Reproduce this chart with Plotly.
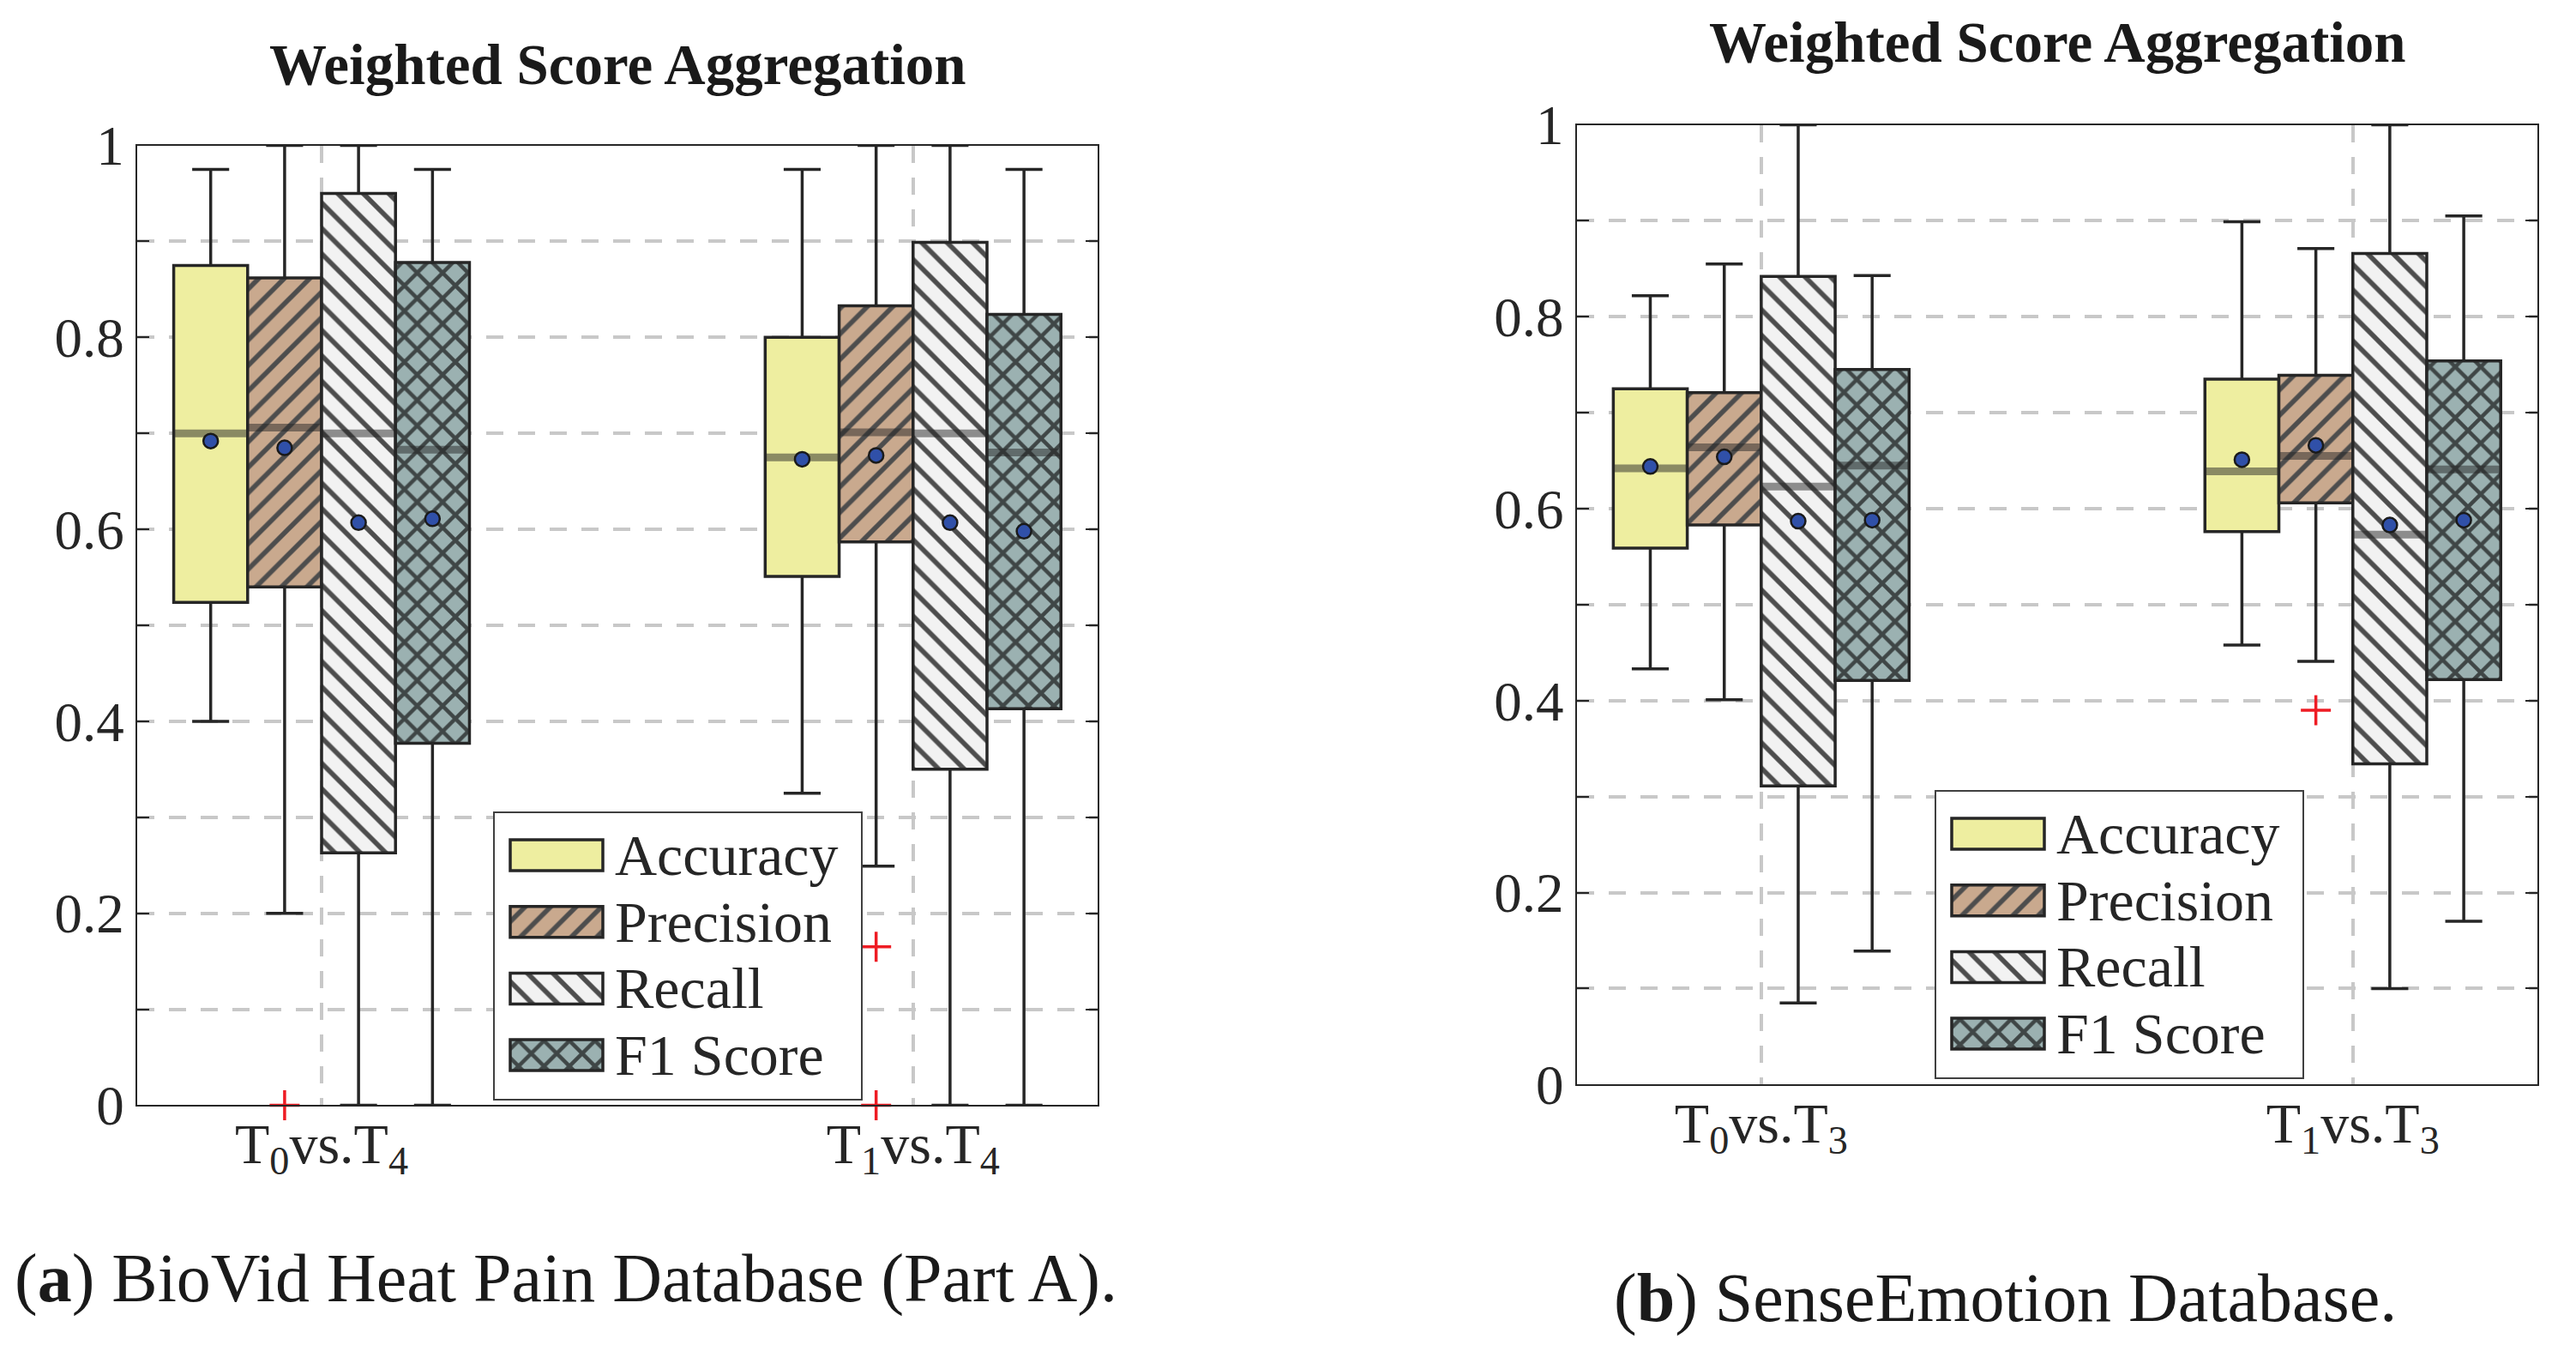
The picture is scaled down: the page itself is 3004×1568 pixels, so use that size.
import plotly.graph_objects as go

W, H = 3004, 1568
OFF = 8  # page body margin of the exported html
FONT = "Liberation Serif"
INK = "#262626"

metrics = ["Accuracy", "Precision", "Recall", "F1 Score"]

# ---------------- Panel (a): BioVid (rows = metrics, cols = groups) ----------------
a_groups = ["T<sub>0</sub>vs.T<sub>4</sub>", "T<sub>1</sub>vs.T<sub>4</sub>"]
a_q1 = [[0.524, 0.551], [0.540, 0.587], [0.263, 0.350], [0.377, 0.413]]
a_q3 = [[0.875, 0.800], [0.862, 0.833], [0.950, 0.899], [0.878, 0.824]]
a_med = [[0.700, 0.675], [0.706, 0.701], [0.700, 0.700], [0.683, 0.680]]
a_mean = [[0.692, 0.673], [0.685, 0.677], [0.607, 0.607], [0.611, 0.598]]
a_wlo = [[0.400, 0.325], [0.200, 0.249], [0.000, 0.000], [0.000, 0.000]]
a_whi = [[0.975, 0.975], [1.000, 1.000], [1.000, 1.000], [0.975, 0.975]]
a_out_metric = [1, 1, 1]
a_out_group = [0, 1, 1]
a_out_value = [0.000, 0.165, 0.000]

# ---------------- Panel (b): SenseEmotion ----------------
b_groups = ["T<sub>0</sub>vs.T<sub>3</sub>", "T<sub>1</sub>vs.T<sub>3</sub>"]
b_q1 = [[0.559, 0.576], [0.583, 0.606], [0.311, 0.334], [0.421, 0.422]]
b_q3 = [[0.725, 0.735], [0.721, 0.739], [0.842, 0.866], [0.745, 0.754]]
b_med = [[0.642, 0.639], [0.664, 0.655], [0.623, 0.573], [0.645, 0.641]]
b_mean = [[0.644, 0.651], [0.654, 0.666], [0.587, 0.583], [0.588, 0.588]]
b_wlo = [[0.433, 0.458], [0.401, 0.441], [0.085, 0.100], [0.139, 0.170]]
b_whi = [[0.822, 0.899], [0.855, 0.871], [1.000, 1.000], [0.843, 0.905]]
b_out_metric = [1]
b_out_group = [1]
b_out_value = [0.390]

y_ticks = [0, 0.2, 0.4, 0.6, 0.8, 1.0]
y_ticktext = ["0", "0.2", "0.4", "0.6", "0.8", "1"]

# ---------------- styles ----------------
fills = ["#eeeea0", "#c9a98e", "#f2f2f2", "#9bb1b1"]
patterns = [
    dict(shape=""),
    dict(shape="/", fgcolor="#4d4d4d", bgcolor="#c9a98e", size=21, solidity=0.27, fillmode="replace"),
    dict(shape="\\", fgcolor="#4d4d4d", bgcolor="#f2f2f2", size=21, solidity=0.27, fillmode="replace"),
    dict(shape="x", fgcolor="#3f4646", bgcolor="#9bb1b1", size=21, solidity=0.38, fillmode="replace"),
]
BOX_W = 0.125
CAP_W = 0.0625
offsets = [(-1.5 + i) * BOX_W for i in range(4)]


def fx(px):
    return (px - OFF) / W


def fy(py):
    return 1 - (py - OFF) / H


fig = go.Figure()


def add_panel(xa, ya, q1, q3, med, mean, wlo, whi, om, og, ov):
    for m in range(4):
        xs = [g + 1 + offsets[m] for g in range(len(q1[m]))]
        fig.add_trace(go.Bar(
            x=xs, y=[q3[m][g] - q1[m][g] for g in range(len(xs))], base=q1[m],
            width=BOX_W, xaxis=xa, yaxis=ya, showlegend=False, hoverinfo="skip",
            marker=dict(color=fills[m], pattern=patterns[m], line=dict(color=INK, width=3.5)),
        ))
    for m in range(4):
        wx, wy = [], []
        mx, my = [], []
        for g in range(len(q1[m])):
            c = g + 1 + offsets[m]
            wx += [c, c, None, c - CAP_W / 2, c + CAP_W / 2, None,
                   c, c, None, c - CAP_W / 2, c + CAP_W / 2, None]
            wy += [q3[m][g], whi[m][g], None, whi[m][g], whi[m][g], None,
                   q1[m][g], wlo[m][g], None, wlo[m][g], wlo[m][g], None]
            mx += [c - BOX_W / 2, c + BOX_W / 2, None]
            my += [med[m][g], med[m][g], None]
        fig.add_trace(go.Scatter(x=wx, y=wy, mode="lines", xaxis=xa, yaxis=ya,
                                 line=dict(color=INK, width=3.5), cliponaxis=False,
                                 showlegend=False, hoverinfo="skip"))
        fig.add_trace(go.Scatter(x=mx, y=my, mode="lines", xaxis=xa, yaxis=ya,
                                 line=dict(color="rgba(38,38,38,0.5)", width=9),
                                 showlegend=False, hoverinfo="skip"))
    for m in range(4):
        fig.add_trace(go.Scatter(
            x=[g + 1 + offsets[m] for g in range(len(mean[m]))], y=mean[m], mode="markers",
            xaxis=xa, yaxis=ya, showlegend=False,
            marker=dict(symbol="circle", size=17, color="#3050a8", line=dict(color="#1a1a1a", width=2.5)),
        ))
    fig.add_trace(go.Scatter(
        x=[og[k] + 1 + offsets[om[k]] for k in range(len(ov))], y=ov, mode="markers",
        xaxis=xa, yaxis=ya, showlegend=False, cliponaxis=False,
        marker=dict(symbol="cross-thin", size=25, line=dict(color="#ee1c24", width=3.5)),
    ))


add_panel("x", "y", a_q1, a_q3, a_med, a_mean, a_wlo, a_whi, a_out_metric, a_out_group, a_out_value)
add_panel("x2", "y2", b_q1, b_q3, b_med, b_mean, b_wlo, b_whi, b_out_metric, b_out_group, b_out_value)

# ---------------- custom legends (inset axes) ----------------
LEG_W, LEG_H = 431, 337
row_y = [51 + 77.7 * i for i in range(4)]
for xa, ya in [("x3", "y3"), ("x4", "y4")]:
    for m in range(4):
        fig.add_trace(go.Bar(
            orientation="h", y=[row_y[m]], x=[108], base=[20], width=36,
            xaxis=xa, yaxis=ya, showlegend=False, hoverinfo="skip",
            marker=dict(color=fills[m], pattern=patterns[m], line=dict(color=INK, width=3.5)),
        ))
        fig.add_annotation(xref=xa, yref=ya, x=140, y=row_y[m], text=metrics[m],
                           showarrow=False, xanchor="left", yanchor="middle",
                           font=dict(family=FONT, size=68, color=INK))
    fig.add_shape(type="rect", xref=xa, yref=ya, x0=0, x1=LEG_W, y0=0, y1=LEG_H,
                  fillcolor="white", line=dict(color="#404040", width=4), layer="below")

GRID_C, GRID_W, GRID_D = "#c8c8c8", 4, "20px,17px"
grid = dict(showgrid=True, gridcolor=GRID_C, gridwidth=GRID_W, griddash=GRID_D, zeroline=False,
            automargin=False)
xcommon = dict(range=[0.688, 2.312], tickvals=[1, 2], ticks="", showline=True, linecolor=INK,
               linewidth=2, mirror=True, ticklabelstandoff=-14,
               tickfont=dict(family=FONT, size=66, color=INK), **grid)
ycommon = dict(range=[0, 1], tickvals=y_ticks, ticktext=y_ticktext, ticks="inside", ticklen=14,
               tickwidth=2, tickcolor=INK, showline=True, linecolor=INK, linewidth=2, mirror="ticks",
               tickfont=dict(family=FONT, size=65, color=INK),
               minor=dict(dtick=0.1, tick0=0, ticks="inside", ticklen=14, tickwidth=2, tickcolor=INK,
                          showgrid=True, gridcolor=GRID_C, gridwidth=GRID_W, griddash=GRID_D),
               **grid)
inset = dict(visible=False, fixedrange=True, showgrid=False, zeroline=False, automargin=False)

fig.update_layout(
    width=W, height=H, margin=dict(l=0, r=0, t=0, b=0, pad=0, autoexpand=False),
    paper_bgcolor="white", plot_bgcolor="white", barmode="overlay",
    font=dict(family=FONT, color=INK),
    xaxis=dict(domain=[fx(159.8), fx(1280)], anchor="y", ticktext=a_groups, **xcommon),
    yaxis=dict(domain=[fy(1288.4), fy(169.6)], anchor="x", **ycommon),
    xaxis2=dict(domain=[fx(1838.6), fx(2959)], anchor="y2", ticktext=b_groups, **xcommon),
    yaxis2=dict(domain=[fy(1264.3), fy(145.5)], anchor="x2", **ycommon),
    xaxis3=dict(domain=[fx(575), fx(1006)], anchor="y3", range=[0, LEG_W], **inset),
    yaxis3=dict(domain=[fy(1283), fy(946)], anchor="x3", range=[LEG_H, 0], **inset),
    xaxis4=dict(domain=[fx(2256), fx(2687)], anchor="y4", range=[0, LEG_W], **inset),
    yaxis4=dict(domain=[fy(1258), fy(921)], anchor="x4", range=[LEG_H, 0], **inset),
    showlegend=False,
)

title_text = "<b>Weighted Score Aggregation</b>"
fig.add_annotation(xref="paper", yref="paper", x=fx(720), y=fy(75), text=title_text, showarrow=False,
                   xanchor="center", yanchor="middle", font=dict(family=FONT, size=67, color="#1a1a1a"))
fig.add_annotation(xref="paper", yref="paper", x=fx(2399), y=fy(49), text=title_text, showarrow=False,
                   xanchor="center", yanchor="middle", font=dict(family=FONT, size=67, color="#1a1a1a"))
fig.add_annotation(xref="paper", yref="paper", x=fx(660), y=fy(1490),
                   text="(<b>a</b>) BioVid Heat Pain Database (Part A).", showarrow=False,
                   xanchor="center", yanchor="middle", font=dict(family=FONT, size=80, color="#1a1a1a"))
fig.add_annotation(xref="paper", yref="paper", x=fx(2338), y=fy(1513),
                   text="(<b>b</b>) SenseEmotion Database.", showarrow=False,
                   xanchor="center", yanchor="middle", font=dict(family=FONT, size=80, color="#1a1a1a"))

fig.write_html("out.html")
